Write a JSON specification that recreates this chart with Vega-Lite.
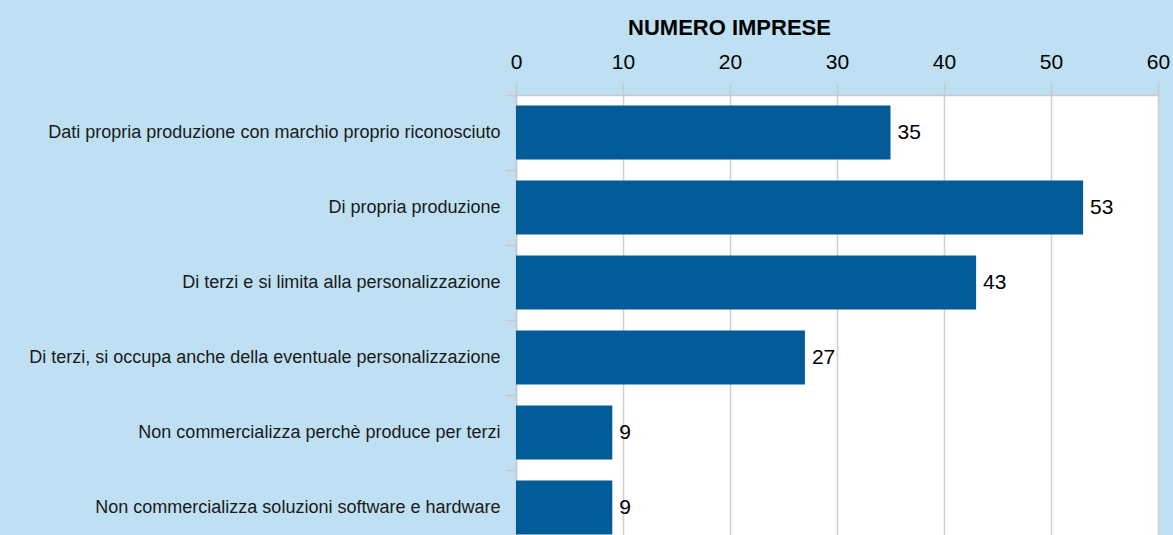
{
  "$schema": "https://vega.github.io/schema/vega-lite/v6.json",
  "width": 642,
  "height": 450,
  "autosize": {"type": "none"},
  "padding": {"left": 516, "top": 95, "right": 15, "bottom": 0},
  "background": "#BEE0F2",
  "config": {
    "view": {"stroke": null, "fill": "#FFFFFF"},
    "font": "Liberation Sans"
  },
  "data": {
    "values": [
      {"categoria": "Dati propria produzione con marchio proprio riconosciuto", "imprese": 35},
      {"categoria": "Di propria produzione", "imprese": 53},
      {"categoria": "Di terzi e si limita alla personalizzazione", "imprese": 43},
      {"categoria": "Di terzi, si occupa anche della eventuale personalizzazione", "imprese": 27},
      {"categoria": "Non commercializza perchè produce per terzi", "imprese": 9},
      {"categoria": "Non commercializza soluzioni software e hardware", "imprese": 9}
    ]
  },
  "encoding": {
    "y": {
      "field": "categoria",
      "type": "nominal",
      "sort": null,
      "scale": {"paddingInner": 0.28, "paddingOuter": 0.14},
      "axis": {
        "title": null,
        "labelFont": "Liberation Sans",
        "labelFontSize": 18,
        "labelColor": "#1A1A1A",
        "labelLimit": 600,
        "labelPadding": 5,
        "tickSize": 11,
        "tickColor": "#C8C8C8",
        "tickWidth": 1.5,
        "bandPosition": -0.194,
        "domainColor": "#C8C8C8",
        "domainWidth": 1.5,
        "grid": false
      }
    },
    "x": {
      "field": "imprese",
      "type": "quantitative",
      "scale": {"domain": [0, 60], "nice": false},
      "axis": {
        "orient": "top",
        "title": "NUMERO IMPRESE",
        "titleFont": "Liberation Sans",
        "titleFontSize": 22,
        "titleFontWeight": "bold",
        "titleColor": "#000000",
        "titleX": 213,
        "titleY": -68,
        "titleAlign": "center",
        "titleBaseline": "middle",
        "values": [0, 10, 20, 30, 40, 50, 60],
        "labelFont": "Liberation Sans",
        "labelFontSize": 21,
        "labelColor": "#000000",
        "labelPadding": 11,
        "labelFlush": false,
        "tickSize": 12,
        "tickColor": "#C8C8C8",
        "tickWidth": 1.5,
        "domainColor": "#C8C8C8",
        "domainWidth": 1.5,
        "grid": true,
        "gridColor": "#D0D0D0",
        "gridWidth": 1.5
      }
    }
  },
  "layer": [
    {"mark": {"type": "bar", "color": "#005B96"}},
    {
      "mark": {"type": "text", "align": "left", "baseline": "middle", "dx": 7, "fontSize": 21, "color": "#000000", "font": "Liberation Sans"},
      "encoding": {"text": {"field": "imprese", "type": "quantitative"}}
    }
  ]
}
